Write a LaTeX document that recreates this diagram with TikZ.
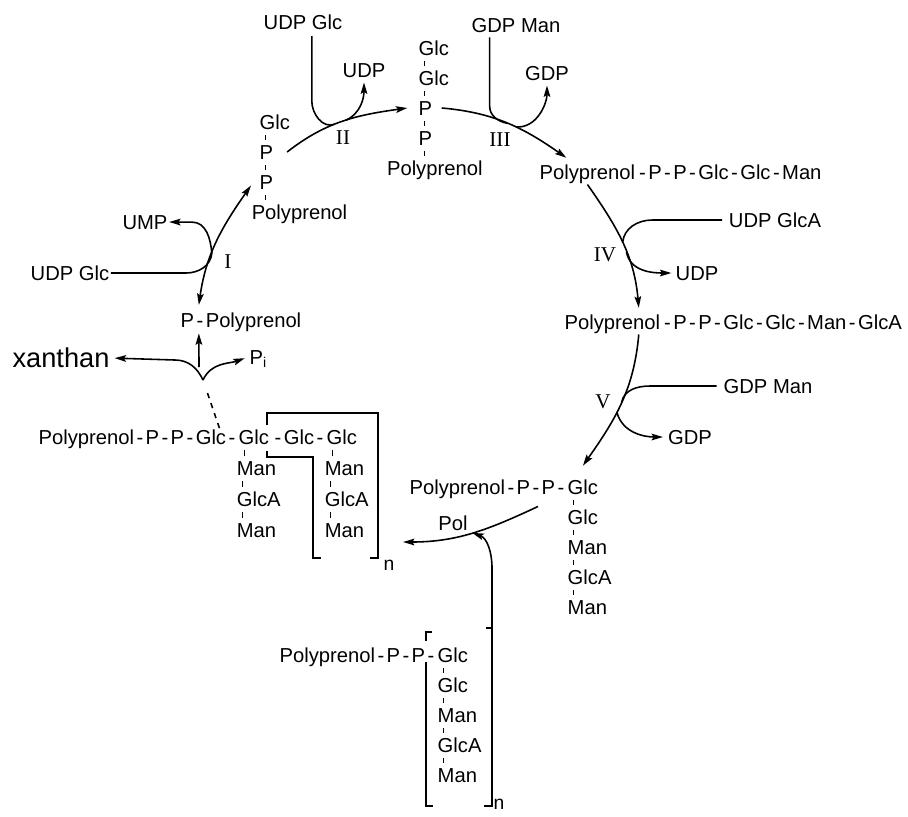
\documentclass[tikz,border=0pt]{standalone}
\usepackage{fontspec}
\setmainfont{Liberation Sans}
\newfontfamily\numfont{Liberation Serif}
\usetikzlibrary{arrows.meta,positioning}
\newcommand{\bd}{\hspace{0.12em}-\hspace{0.12em}}

\begin{document}
\begin{tikzpicture}[x=0.02cm,y=-0.02cm,>={Stealth[length=6.5pt,width=3.8pt,inset=1.2pt]},line width=0.9pt,
    font=\fontsize{11.5}{13}\selectfont,
    lbl/.style={inner sep=0.5pt,text height=8.3pt,text depth=0pt},
    enz/.style={font=\fontsize{12}{14}\selectfont\numfont},
    bond/.style={line width=0.5pt,shorten <=2.5pt,shorten >=2.5pt},
    brk/.style={line width=0.8pt}]
  \useasboundingbox (0,0) rectangle (908,816);

  % step I
  \node[lbl] (ppol) at (241,320) {P\bd Polyprenol};
  \node[lbl] (ump) at (145,222) {UMP};
  \node[lbl] (udpI) at (70,273) {UDP Glc};
  \node[enz] at (228,262) {I};

  \node[lbl,anchor=west] (g1) at (258,122) {Glc};
  \node[lbl] (p1a) [below=0.6cm of g1.west,anchor=west] {P};
  \node[lbl] (p1b) [below=0.6cm of p1a.west,anchor=west] {P};
  \node[lbl] (pp1) [below=0.6cm of p1b.west,anchor=west,xshift=-4.5pt] {Polyprenol};

  % step II
  \node[lbl] (udpgII) at (303,22) {UDP Glc};
  \node[lbl] (udpII) at (364,70) {UDP};
  \node[enz] at (343,138) {II};

  \node[lbl,anchor=west] (g2a) at (417,48) {Glc};
  \node[lbl] (g2b) [below=0.6cm of g2a.west,anchor=west] {Glc};
  \node[lbl] (p2a) [below=0.6cm of g2b.west,anchor=west] {P};
  \node[lbl] (p2b) [below=0.6cm of p2a.west,anchor=west] {P};
  \node[lbl] (pp2) [below=0.6cm of p2b.west,anchor=west,xshift=-18pt] {Polyprenol};

  % step III
  \node[lbl] (gdpmIII) at (516,25) {GDP Man};
  \node[lbl] (gdpIII) at (547,73) {GDP};
  \node[enz] at (500,140) {III};
  \node[lbl,anchor=west] (pp3) at (538,172) {Polyprenol};
  \node[lbl] (rest3) [base right=-1pt of pp3] {\bd P\bd P\bd Glc\bd Glc\bd Man};

  % step IV
  \node[lbl] (udpgaIV) at (775,220) {UDP GlcA};
  \node[lbl] (udpIV) at (697,273) {UDP};
  \node[enz] at (605,255) {IV};
  \node[lbl,anchor=west] (pp4) at (563,322) {Polyprenol};
  \node[lbl] (rest4) [base right=-1pt of pp4] {\bd P\bd P\bd Glc\bd Glc\bd Man\bd GlcA};

  % step V
  \node[lbl] (gdpmV) at (768,386) {GDP Man};
  \node[lbl] (gdpV) at (690,437) {GDP};
  \node[enz] at (603,402) {V};
  \node[lbl,anchor=west] (pp5) at (408,487) {Polyprenol\bd P\bd P\bd};
  \node[lbl] (g5a) [base right=0pt of pp5] {Glc};
  \node[lbl] (g5b) [below=0.6cm of g5a.west,anchor=west] {Glc};
  \node[lbl] (g5c) [below=0.6cm of g5b.west,anchor=west] {Man};
  \node[lbl] (g5d) [below=0.6cm of g5c.west,anchor=west] {GlcA};
  \node[lbl] (g5e) [below=0.6cm of g5d.west,anchor=west] {Man};

  % polymerisation
  \node[lbl] at (453,523) {Pol};
  \node[lbl,anchor=west] (pp6) at (278,655) {Polyprenol\bd P\bd P\bd};
  \node[lbl] (g6a) [base right=0pt of pp6] {Glc};
  \node[lbl] (g6b) [below=0.6cm of g6a.west,anchor=west] {Glc};
  \node[lbl] (g6c) [below=0.6cm of g6b.west,anchor=west] {Man};
  \node[lbl] (g6d) [below=0.6cm of g6c.west,anchor=west] {GlcA};
  \node[lbl] (g6e) [below=0.6cm of g6d.west,anchor=west] {Man};
  \node[lbl,font=\fontsize{11}{12}\selectfont] at (499,802) {n};

  % growing chain and release
  \node[lbl,anchor=west] (c1) at (37,437) {Polyprenol\bd P\bd P\bd Glc\bd};
  \node[lbl] (c2) [base right=0pt of c1] {Glc};
  \node[lbl] (c3) [base right=0pt of c2] {\bd Glc\bd};
  \node[lbl] (c4) [base right=0pt of c3] {Glc};
  \node[lbl] (m1) [below=0.62cm of c2.west,anchor=west,xshift=-1pt] {Man};
  \node[lbl] (a1) [below=0.62cm of m1.west,anchor=west] {GlcA};
  \node[lbl] (n1) [below=0.62cm of a1.west,anchor=west] {Man};
  \node[lbl] (m2) [below=0.62cm of c4.west,anchor=west,xshift=-1pt] {Man};
  \node[lbl] (a2) [below=0.62cm of m2.west,anchor=west] {GlcA};
  \node[lbl] (n2) [below=0.62cm of a2.west,anchor=west] {Man};
  \node[lbl,font=\fontsize{11}{12}\selectfont] at (389,563) {n};

  \node[inner sep=0.5pt,font=\fontsize{15.5}{18}\selectfont] (xan) at (61,358) {xanthan};
  \node[lbl,anchor=west] (pi) at (248,357) {P\textsubscript{i}};

  \coordinate (jx) at (203,380);
  \coordinate (jup) at (199,367);
  \coordinate (polend) at (403,542);
  \coordinate (bk) at (492,628);

  % bonds
  \path[bond] ([xshift=4pt]g1.south west) edge +(0,-7.8pt)
              ([xshift=4pt]p1a.south west) edge +(0,-7.8pt)
              ([xshift=4pt]p1b.south west) edge +(0,-7.8pt)
              ([xshift=4pt]g2a.south west) edge +(0,-7.8pt)
              ([xshift=4pt]g2b.south west) edge +(0,-7.8pt)
              ([xshift=4pt]p2a.south west) edge +(0,-7.8pt)
              ([xshift=4pt]p2b.south west) edge +(0,-7.8pt)
              ([xshift=4pt]g5a.south west) edge +(0,-7.8pt)
              ([xshift=4pt]g5b.south west) edge +(0,-7.8pt)
              ([xshift=4pt]g5c.south west) edge +(0,-7.8pt)
              ([xshift=4pt]g5d.south west) edge +(0,-7.8pt)
              ([xshift=4pt]g6a.south west) edge +(0,-7.8pt)
              ([xshift=4pt]g6b.south west) edge +(0,-7.8pt)
              ([xshift=4pt]g6c.south west) edge +(0,-7.8pt)
              ([xshift=4pt]g6d.south west) edge +(0,-7.8pt)
              ([xshift=4pt]c2.south west) edge +(0,-8.3pt)
              ([xshift=4pt]m1.south west) edge +(0,-8.3pt)
              ([xshift=4pt]a1.south west) edge +(0,-8.3pt)
              ([xshift=4pt]c4.south west) edge +(0,-8.3pt)
              ([xshift=4pt]m2.south west) edge +(0,-8.3pt)
              ([xshift=4pt]a2.south west) edge +(0,-8.3pt);

  % cycle
  \draw[<->] ([xshift=-24pt,yshift=3.5pt]ppol.north) to[out=82,in=235] coordinate[pos=.4] (j1) ([xshift=-4pt,yshift=-2pt]p1b.west);
  \draw[->] (j1) to[out=95,in=0] ++(-20,-31) -- (ump.east);
  \draw (udpI.east) -- ++(75,0) to[out=0,in=265] (j1);

  \draw[->] ([xshift=7pt]p1a.east) to[out=38,in=188] coordinate[pos=.42] (j2) coordinate[pos=.52] (j2b) ([xshift=-5.5pt]p2a.west);
  \draw[shorten <=3pt] ([xshift=5pt]udpgII.south) -- ++(0,70) to[out=-90,in=200] (j2);
  \draw[->,shorten >=2pt] (j2b) to[out=25,in=-90] (udpII.south);

  \draw[->] ([xshift=4.5pt]p2a.east) to[out=-5,in=145] coordinate[pos=.5] (j3) coordinate[pos=.57] (j3b) ([xshift=-12pt,yshift=3pt]pp3.north);
  \draw[shorten <=2pt] ([xshift=-15pt]gdpmIII.south) -- ++(0,72) to[out=-90,in=170] (j3);
  \draw[->,shorten >=2pt] (j3b) to[out=-5,in=-90] (gdpIII.south);

  \draw[->] ([yshift=-2pt]pp3.south) to[out=-55,in=95] coordinate[pos=.5] (j4) coordinate[pos=.58] (j4b) ([xshift=15pt,yshift=3pt]pp4.north);
  \draw[shorten <=3pt] (udpgaIV.west) -- ++(-75,0) to[out=180,in=85] (j4);
  \draw[->,shorten >=1.5pt] (j4b) to[out=-80,in=180] (udpIV.west);

  \draw[->] ([xshift=15pt,yshift=-2pt]pp4.south) to[out=-95,in=55] coordinate[pos=.49] (j5) coordinate[pos=.57] (j5b) ([yshift=7pt]g5a.north);
  \draw[shorten <=3pt] (gdpmV.west) -- ++(-72,0) to[out=180,in=80] (j5);
  \draw[->,shorten >=2pt] (j5b) to[out=-75,in=180] (gdpV.west);

  \draw[->] ([xshift=-16pt,yshift=-6pt]pp5.south east) to[out=205,in=0] coordinate[pos=.5] (jp) (polend);
  \draw[->] (bk) -- ++(0,-60) to[out=90,in=-20] (jp);

  % release of xanthan
  \draw[->,shorten >=2pt] (jx) to[out=115,in=0] ++(-28,-20) -- (xan.east);
  \draw[->,shorten >=2pt] (jx) to[out=65,in=200] (pi.west);
  \draw[->,shorten >=2.5pt] (jup) -- ([xshift=-24pt]ppol.south);
  \draw[dashed,shorten >=5pt] ([xshift=-10pt]c2.north west) -- (jx);

  % brackets
  \draw[brk] (267,425) -- (267,413) -- (378,413) -- (378,558) -- (370,558);
  \draw[brk] (267,451) -- (267,457) -- (313,457) -- (313,558) -- (321,558);
  \draw[brk] (426,641) -- (426,632) -- (432,632);
  \draw[brk] (426,662) -- (426,806) -- (433,806);
  \draw[brk] (486,628) -- (bk) -- (492,806) -- (484,806);
\end{tikzpicture}
\end{document}
